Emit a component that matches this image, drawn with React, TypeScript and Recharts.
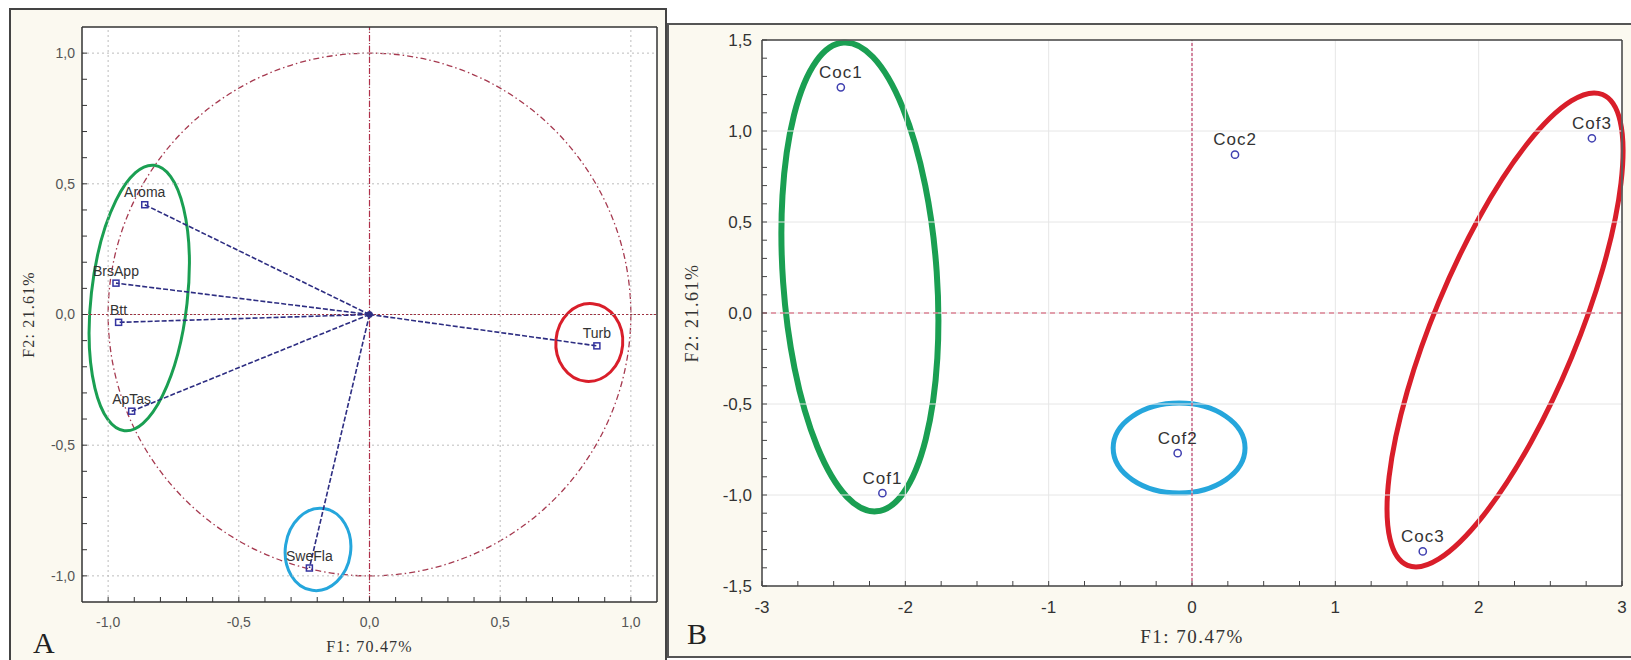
import React from "react";
import {
  ScatterChart,
  Scatter,
  XAxis,
  YAxis,
  CartesianGrid,
  ReferenceLine,
  ReferenceArea,
  ReferenceDot,
  LabelList,
} from "recharts";

// Panel A: variable loadings on F1/F2
const varNames = ["Aroma", "BrsApp", "Btt", "ApTas", "SweFla", "Turb"];
const varF1 = [-0.86, -0.97, -0.96, -0.91, -0.23, 0.87];
const varF2 = [0.42, 0.12, -0.03, -0.37, -0.97, -0.12];

// Panel B: sample scores on F1/F2
const sampleNames = ["Coc1", "Coc2", "Coc3", "Cof1", "Cof2", "Cof3"];
const sampleF1 = [-2.45, 0.3, 1.61, -2.16, -0.1, 2.79];
const sampleF2 = [1.24, 0.87, -1.31, -0.99, -0.77, 0.96];

// axis ticks (all tick marks, then the labelled ones)
const ticksA = [
  -1.0, -0.9, -0.8, -0.7, -0.6, -0.5, -0.4, -0.3, -0.2, -0.1, 0, 0.1, 0.2, 0.3, 0.4, 0.5, 0.6, 0.7, 0.8, 0.9, 1.0,
];
const majorA = [-1.0, -0.5, 0, 0.5, 1.0];
const ticksBx = [
  -3, -2.75, -2.5, -2.25, -2, -1.75, -1.5, -1.25, -1, -0.75, -0.5, -0.25, 0, 0.25, 0.5, 0.75, 1, 1.25, 1.5, 1.75, 2,
  2.25, 2.5, 2.75, 3,
];
const majorBx = [-3, -2, -1, 0, 1, 2, 3];
const ticksBy = [
  -1.5, -1.4, -1.3, -1.2, -1.1, -1.0, -0.9, -0.8, -0.7, -0.6, -0.5, -0.4, -0.3, -0.2, -0.1, 0, 0.1, 0.2, 0.3, 0.4, 0.5,
  0.6, 0.7, 0.8, 0.9, 1.0, 1.1, 1.2, 1.3, 1.4, 1.5,
];
const majorBy = [-1.5, -1, -0.5, 0, 0.5, 1, 1.5];

// hand-drawn group ellipses, in data units (angle in degrees)
const groupsA = [
  { group: "green", cx: -0.881, cy: 0.063, rx: 0.184, ry: 0.511, angle: 6.4 },
  { group: "red", cx: 0.841, cy: -0.107, rx: 0.128, ry: 0.149, angle: 5 },
  { group: "cyan", cx: -0.197, cy: -0.899, rx: 0.125, ry: 0.158, angle: 8 },
];
const groupsB = [
  { group: "green", cx: -2.317, cy: 0.198, rx: 0.537, ry: 1.291, angle: -4 },
  { group: "cyan", cx: -0.09, cy: -0.742, rx: 0.46, ry: 0.247, angle: 0 },
  { group: "red", cx: 2.184, cy: -0.093, rx: 0.502, ry: 1.4, angle: 22.5 },
];

const groupColor: Record<string, string> = {
  green: "#1a9f52",
  red: "#d91e2a",
  cyan: "#25a6dc",
};

const varData = varNames.map((name, i) => ({ name, x: varF1[i], y: varF2[i] }));
const sampleData = sampleNames.map((name, i) => ({ name, x: sampleF1[i], y: sampleF2[i] }));

const SANS = "'Liberation Sans', Arial, sans-serif";
const SERIF = "'Liberation Serif', 'Times New Roman', serif";

const isMajor = (list: number[], v: number) => list.some((m) => Math.abs(m - v) < 1e-9);
const fmtA = (v: number) => (isMajor(majorA, v) ? v.toFixed(1).replace(".", ",") : "");
const fmtBx = (v: number) => (isMajor(majorBx, v) ? String(v) : "");
const fmtBy = (v: number) => (isMajor(majorBy, v) ? v.toFixed(1).replace(".", ",") : "");

function ellipseShape(angle: number, stroke: string, strokeWidth: number, dash?: string) {
  return (props: any) => {
    const { x, y, width, height } = props;
    const cx = x + width / 2;
    const cy = y + height / 2;
    return (
      <ellipse
        cx={cx}
        cy={cy}
        rx={Math.abs(width / 2)}
        ry={Math.abs(height / 2)}
        transform={`rotate(${angle} ${cx} ${cy})`}
        fill="none"
        stroke={stroke}
        strokeWidth={strokeWidth}
        strokeDasharray={dash}
      />
    );
  };
}

const squareShape = (p: any) => (
  <rect x={p.cx - 3} y={p.cy - 3} width={6} height={6} fill="none" stroke="#3434a0" strokeWidth={1.5} />
);
const circleShape = (p: any) => (
  <circle cx={p.cx} cy={p.cy} r={3.6} fill="none" stroke="#4040b0" strokeWidth={1.5} />
);

function LoadingsPanel() {
  return (
    <ScatterChart width={657} height={652} margin={{ top: 18, right: 8, bottom: 18, left: 23 }}>
      <CartesianGrid horizontal={false} vertical={false} fill="#ffffff" />
      <XAxis
        type="number"
        dataKey="x"
        domain={[-1.1, 1.1]}
        ticks={ticksA}
        interval={0}
        allowDataOverflow
        height={40}
        tickSize={-5}
        tickMargin={20}
        tickFormatter={fmtA}
        axisLine={{ stroke: "#333", strokeWidth: 1.5 }}
        tickLine={{ stroke: "#333" }}
        tick={{ fill: "#555", fontSize: 14, fontFamily: SANS }}
        label={{
          value: "F1: 70.47%",
          position: "insideBottom",
          offset: -10,
          style: { fontFamily: SERIF, fontSize: 16, letterSpacing: 1.2, fill: "#333" },
        }}
      />
      <YAxis
        type="number"
        dataKey="y"
        domain={[-1.1, 1.1]}
        ticks={ticksA}
        interval={0}
        allowDataOverflow
        width={50}
        tickSize={-5}
        tickMargin={12}
        tickFormatter={fmtA}
        axisLine={{ stroke: "#333", strokeWidth: 1.5 }}
        tickLine={{ stroke: "#333" }}
        tick={{ fill: "#555", fontSize: 14, fontFamily: SANS }}
        label={{
          value: "F2: 21.61%",
          angle: -90,
          position: "left",
          offset: 4,
          style: { textAnchor: "middle", fontFamily: SERIF, fontSize: 16, letterSpacing: 1.2, fill: "#333" },
        }}
      />
      <XAxis
        xAxisId="top"
        orientation="top"
        type="number"
        domain={[-1.1, 1.1]}
        ticks={ticksA}
        interval={0}
        allowDataOverflow
        height={1}
        tickSize={-5}
        tick={false}
        axisLine={{ stroke: "#333", strokeWidth: 1.5 }}
        tickLine={{ stroke: "#333" }}
      />
      <YAxis
        yAxisId="right"
        orientation="right"
        type="number"
        domain={[-1.1, 1.1]}
        ticks={ticksA}
        interval={0}
        allowDataOverflow
        width={1}
        tickSize={-5}
        tick={false}
        axisLine={{ stroke: "#333", strokeWidth: 1.5 }}
        tickLine={{ stroke: "#333" }}
      />

      {majorA.map((v) => (
        <ReferenceLine key={`gx${v}`} x={v} stroke="#bdbdbd" strokeDasharray="2 3" />
      ))}
      {majorA.map((v) => (
        <ReferenceLine key={`gy${v}`} y={v} stroke="#bdbdbd" strokeDasharray="2 3" />
      ))}
      <ReferenceLine x={0} stroke="#b0304a" strokeDasharray="6 2 1 2" strokeWidth={1.2} />
      <ReferenceLine y={0} stroke="#a03040" strokeDasharray="2 2" strokeWidth={1.2} />

      {/* unit correlation circle */}
      <ReferenceArea
        x1={-1}
        x2={1}
        y1={-1}
        y2={1}
        ifOverflow="visible"
        shape={ellipseShape(0, "#a63a50", 1.3, "6 3 1.5 3")}
      />

      {varData.map((d) => (
        <ReferenceLine
          key={`v${d.name}`}
          segment={[
            { x: 0, y: 0 },
            { x: d.x, y: d.y },
          ]}
          stroke="#2d2d82"
          strokeWidth={1.6}
          strokeDasharray="5 2"
        />
      ))}
      <ReferenceDot x={0} y={0} r={3} fill="#2d2d82" stroke="#2d2d82" />

      {groupsA.map((g) => (
        <ReferenceArea
          key={`ga${g.group}`}
          x1={g.cx - g.rx}
          x2={g.cx + g.rx}
          y1={g.cy - g.ry}
          y2={g.cy + g.ry}
          ifOverflow="visible"
          shape={ellipseShape(g.angle, groupColor[g.group], 3)}
        />
      ))}

      <Scatter data={varData} shape={squareShape} isAnimationActive={false}>
        <LabelList dataKey="name" position="top" offset={3} fill="#333" fontSize={14} fontFamily={SANS} />
      </Scatter>
    </ScatterChart>
  );
}

function ScoresPanel() {
  return (
    <ScatterChart width={964} height={634} margin={{ top: 16, right: 8, bottom: 21, left: 35 }}>
      <CartesianGrid horizontal={false} vertical={false} fill="#ffffff" />
      <XAxis
        type="number"
        dataKey="x"
        domain={[-3, 3]}
        ticks={ticksBx}
        interval={0}
        allowDataOverflow
        height={50}
        tickSize={-5}
        tickMargin={20}
        tickFormatter={fmtBx}
        axisLine={{ stroke: "#444", strokeWidth: 1.5 }}
        tickLine={{ stroke: "#444" }}
        tick={{ fill: "#333", fontSize: 17, fontFamily: SANS }}
        label={{
          value: "F1: 70.47%",
          position: "insideBottom",
          offset: -7,
          style: { fontFamily: SERIF, fontSize: 19, letterSpacing: 1.5, fill: "#333" },
        }}
      />
      <YAxis
        type="number"
        dataKey="y"
        domain={[-1.5, 1.5]}
        ticks={ticksBy}
        interval={0}
        allowDataOverflow
        width={60}
        tickSize={-5}
        tickMargin={15}
        tickFormatter={fmtBy}
        axisLine={{ stroke: "#444", strokeWidth: 1.5 }}
        tickLine={{ stroke: "#444" }}
        tick={{ fill: "#333", fontSize: 17, fontFamily: SANS }}
        label={{
          value: "F2: 21.61%",
          angle: -90,
          position: "left",
          offset: 10,
          style: { textAnchor: "middle", fontFamily: SERIF, fontSize: 18, letterSpacing: 1.5, fill: "#333" },
        }}
      />
      <XAxis
        xAxisId="top"
        orientation="top"
        type="number"
        domain={[-3, 3]}
        ticks={ticksBx}
        interval={0}
        allowDataOverflow
        height={1}
        tickSize={-5}
        tick={false}
        axisLine={{ stroke: "#444", strokeWidth: 1.5 }}
        tickLine={{ stroke: "#444" }}
      />
      <YAxis
        yAxisId="right"
        orientation="right"
        type="number"
        domain={[-1.5, 1.5]}
        ticks={ticksBy}
        interval={0}
        allowDataOverflow
        width={1}
        tickSize={-5}
        tick={false}
        axisLine={{ stroke: "#444", strokeWidth: 1.5 }}
        tickLine={{ stroke: "#444" }}
      />

      {majorBx.map((v) => (
        <ReferenceLine key={`gx${v}`} x={v} stroke="#e6e6e6" />
      ))}
      {majorBy.map((v) => (
        <ReferenceLine key={`gy${v}`} y={v} stroke="#e6e6e6" />
      ))}
      <ReferenceLine x={0} stroke="#c0406a" strokeDasharray="3 2" strokeWidth={1.2} />
      <ReferenceLine y={0} stroke="#d04a64" strokeDasharray="5 4" strokeWidth={1.2} />

      {groupsB.map((g) => (
        <ReferenceArea
          key={`gb${g.group}`}
          x1={g.cx - g.rx}
          x2={g.cx + g.rx}
          y1={g.cy - g.ry}
          y2={g.cy + g.ry}
          ifOverflow="visible"
          shape={ellipseShape(g.angle, groupColor[g.group], g.group === "green" ? 6 : 5)}
        />
      ))}

      <Scatter data={sampleData} shape={circleShape} isAnimationActive={false}>
        <LabelList
          dataKey="name"
          position="top"
          offset={5}
          fill="#333"
          fontSize={17}
          fontFamily={SANS}
          style={{ letterSpacing: 1 }}
        />
      </Scatter>
    </ScatterChart>
  );
}

export default function App() {
  return (
    <div
      style={{
        position: "absolute",
        left: 0,
        top: 0,
        width: 1631,
        height: 660,
        background: "#ffffff",
        overflow: "hidden",
      }}
    >
      <div
        style={{
          position: "absolute",
          left: 9,
          top: 8,
          width: 658,
          height: 670,
          background: "#fbf9f0",
          border: "2px solid #444",
          boxSizing: "border-box",
        }}
      />
      <div
        style={{
          position: "absolute",
          left: 667,
          top: 23,
          width: 980,
          height: 635,
          background: "#fbf9f0",
          border: "2px solid #555",
          boxSizing: "border-box",
        }}
      />
      <div style={{ position: "absolute", left: 9, top: 8 }}>
        <LoadingsPanel />
      </div>
      <div style={{ position: "absolute", left: 667, top: 23 }}>
        <ScoresPanel />
      </div>
      <div
        style={{
          position: "absolute",
          left: 33,
          top: 628,
          fontFamily: SERIF,
          fontSize: 30,
          lineHeight: "30px",
          color: "#222",
        }}
      >
        A
      </div>
      <div
        style={{
          position: "absolute",
          left: 687,
          top: 619,
          fontFamily: SERIF,
          fontSize: 30,
          lineHeight: "30px",
          color: "#222",
        }}
      >
        B
      </div>
    </div>
  );
}
